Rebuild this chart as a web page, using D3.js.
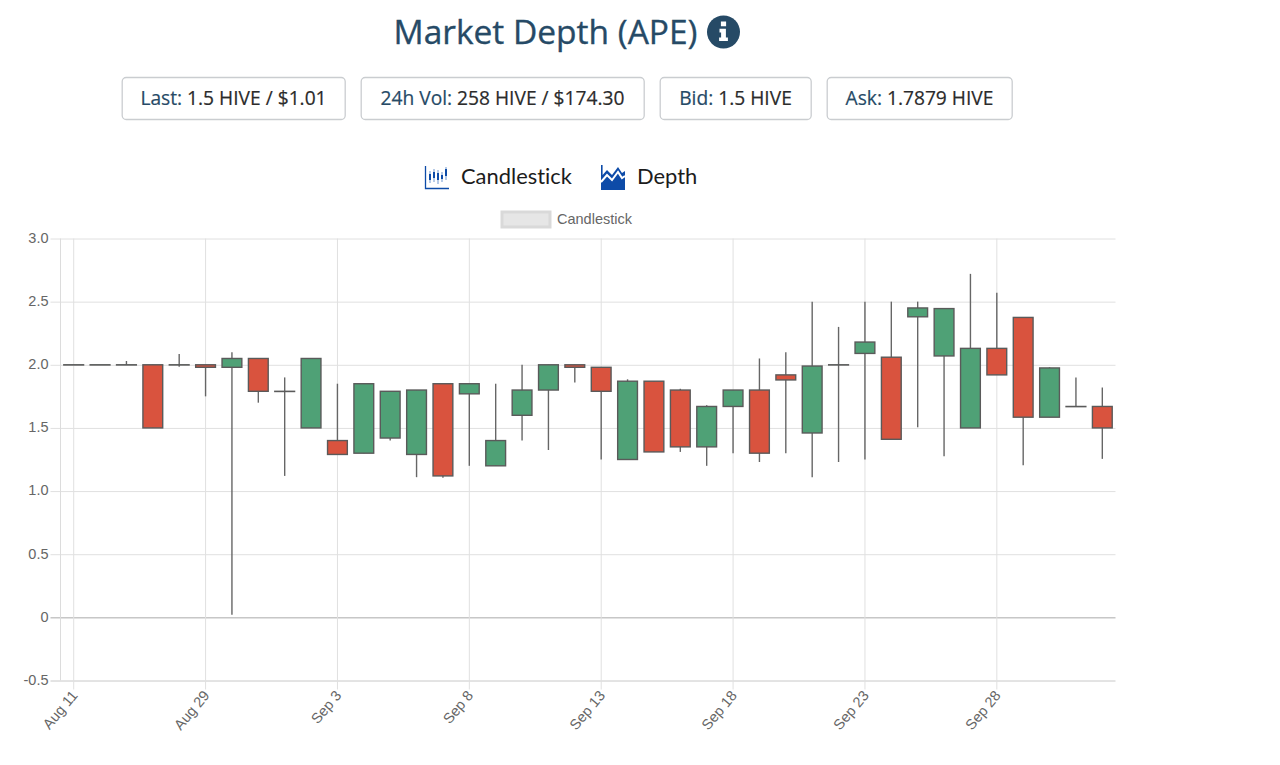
<!DOCTYPE html>
<html>
<head>
<meta charset="utf-8">
<title>Market Depth (APE)</title>
<script src="https://cdn.jsdelivr.net/npm/d3@7"></script>
<style>
  html, body { margin: 0; padding: 0; background: #fff; }
  svg { display: block; }
  .head { font-family: "Open Sans", "Noto Sans", sans-serif; }
  .tab { font-family: "Lato", "Noto Sans", sans-serif; fill: #1c1c1c; font-size: 21.9px; font-variant-ligatures: none; }
  .axis text, .legend-label { font-family: "Liberation Sans", sans-serif; fill: #666; font-size: 14.5px; }
  .axis .domain { display: none; }
  .axis line { stroke: #e0e0e0; stroke-width: 1; }
</style>
</head>
<body>
<div id="chart"></div>
<script>
// first five dates are mostly hidden on the axis, so those are guesses
var categories = ["Aug 11", "Aug 12", "Aug 13", "Aug 14", "Aug 15", "Aug 29", "Aug 30", "Aug 31", "Sep 1", "Sep 2",
  "Sep 3", "Sep 4", "Sep 5", "Sep 6", "Sep 7", "Sep 8", "Sep 9", "Sep 10", "Sep 11", "Sep 12",
  "Sep 13", "Sep 14", "Sep 15", "Sep 16", "Sep 17", "Sep 18", "Sep 19", "Sep 20", "Sep 21", "Sep 22",
  "Sep 23", "Sep 24", "Sep 25", "Sep 26", "Sep 27", "Sep 28", "Sep 29", "Sep 30", "Oct 1", "Oct 2"];

var open_ = [2, 2, 2, 2, 2, 2, 1.98, 2.05, 1.79, 1.5,
  1.4, 1.3, 1.42, 1.29, 1.85, 1.77, 1.2, 1.6, 1.8, 2,
  1.98, 1.25, 1.87, 1.8, 1.35, 1.67, 1.8, 1.92, 1.46, 2,
  2.09, 2.06, 2.38, 2.07, 1.5, 2.13, 2.375, 1.585, 1.67, 1.67];

var close_ = [2, 2, 2, 1.5, 2, 1.98, 2.05, 1.79, 1.79, 2.05,
  1.29, 1.85, 1.79, 1.8, 1.12, 1.85, 1.4, 1.8, 2, 1.98,
  1.79, 1.87, 1.31, 1.35, 1.67, 1.8, 1.3, 1.88, 1.99, 2,
  2.18, 1.41, 2.45, 2.445, 2.13, 1.92, 1.585, 1.975, 1.67, 1.5];

var high = [2, 2, 2.03, 2, 2.085, 2, 2.1, 2.05, 1.9, 2.05,
  1.85, 1.85, 1.79, 1.8, 1.85, 1.85, 1.85, 2, 2, 2,
  1.98, 1.885, 1.87, 1.81, 1.68, 1.8, 2.05, 2.1, 2.5, 2.3,
  2.5, 2.5, 2.5, 2.445, 2.72, 2.57, 2.375, 1.98, 1.9, 1.82];

var low = [2, 2, 2, 1.5, 1.985, 1.75, 0.02, 1.7, 1.12, 1.5,
  1.29, 1.3, 1.4, 1.11, 1.105, 1.2, 1.2, 1.4, 1.325, 1.86,
  1.25, 1.25, 1.31, 1.31, 1.2, 1.3, 1.23, 1.3, 1.11, 1.23,
  1.25, 1.41, 1.505, 1.275, 1.5, 1.92, 1.205, 1.585, 1.67, 1.255];

var yTicks = [-0.5, 0, 0.5, 1, 1.5, 2, 2.5, 3];
var xTickLabels = ["Aug 11", "Aug 29", "Sep 3", "Sep 8", "Sep 13", "Sep 18", "Sep 23", "Sep 28"];

var pillKeys = ["Last:", "24h Vol:", "Bid:", "Ask:"];
var pillValues = ["1.5 HIVE / $1.01", "258 HIVE / $174.30", "1.5 HIVE", "1.7879 HIVE"];
var pillLeft = [122, 361, 660, 827];
var pillRight = [345, 644, 811, 1012];

var navy = "#264a66", blue = "#0d4ba8";
var upColor = "#4fa176", downColor = "#d9533e", edge = "#5a5a5a";

var margin = { top: 238.5, left: 60.5 },
  width = 1055,
  height = 442;

var root = d3.select("#chart").append("svg")
  .attr("width", 1280)
  .attr("height", 765);

// heading
root.append("text")
  .attr("class", "head")
  .attr("x", 393.5).attr("y", 44)
  .style("font-size", "33.5px")
  .style("fill", navy)
  .attr("stroke", navy)
  .attr("stroke-width", 0.35)
  .text("Market Depth (APE)");

var info = root.append("g").attr("transform", "translate(723.5,32)");
info.append("circle").attr("r", 16.5).attr("fill", navy);
info.append("path").attr("fill", "#fff")
  .attr("d", "M-2.6,-10.5h5.2v4.8h-5.2z M-4,-3.2h6.4v8.6h2v3.6h-8.8v-3.6h2v-5h-1.6z");

// stat pills
var pills = root.selectAll(".pill")
  .data(pillKeys)
  .enter().append("g")
  .attr("class", "pill");

pills.append("rect")
  .attr("x", function(d, i) { return pillLeft[i] + 0.2; })
  .attr("y", 77.5)
  .attr("width", function(d, i) { return pillRight[i] - pillLeft[i]; })
  .attr("height", 42)
  .attr("rx", 4)
  .attr("fill", "#fff")
  .attr("stroke", "#cacdd0")
  .attr("stroke-width", 1.3);

var pillText = pills.append("text")
  .attr("class", "head")
  .attr("x", function(d, i) { return (pillLeft[i] + pillRight[i]) / 2; })
  .attr("y", 105)
  .attr("text-anchor", "middle")
  .attr("stroke-width", 0.2)
  .style("font-size", "19.2px");

pillText.append("tspan").attr("fill", navy).attr("stroke", navy).text(function(d) { return d; });
pillText.append("tspan").attr("fill", "#2b2b2b").attr("stroke", "#2b2b2b").text(function(d, i) { return " " + pillValues[i]; });

// chart type tabs
var candleIcon = root.append("g").attr("transform", "translate(425,166)");
candleIcon.append("path").attr("fill", "none").attr("stroke", blue).attr("stroke-width", 1.3)
  .attr("d", "M0.5,0V22.5H24");
candleIcon.append("path").attr("fill", "none").attr("stroke", "#6f97cf").attr("stroke-width", 1)
  .attr("d", "M5,5V17M9,3V16M13,4V18M17,6V16M21,1V14");
candleIcon.append("path").attr("fill", "none").attr("stroke", blue).attr("stroke-width", 2)
  .attr("d", "M5,8V14M9,6V12M13,7V14M17,9V13M21,3V10");

var depthIcon = root.append("g").attr("transform", "translate(601,165)");
depthIcon.append("path").attr("fill", blue)
  .attr("d", "M0,0H1.6V10L6,5L11,10L17,2L21,8L24,6V25H0Z");
depthIcon.append("path").attr("fill", "none").attr("stroke", "#fff").attr("stroke-width", 2)
  .attr("d", "M0,17L6,10L11,15L17,7L21,13L24,11");

root.append("text").attr("class", "tab").attr("x", 461).attr("y", 184).text("Candlestick");
root.append("text").attr("class", "tab").attr("x", 637).attr("y", 184).text("Depth");

// dataset legend
root.append("rect")
  .attr("x", 502).attr("y", 212)
  .attr("width", 48).attr("height", 15)
  .attr("fill", "#e6e6e6")
  .attr("stroke", "#d9d9d9")
  .attr("stroke-width", 3);
root.append("text")
  .attr("class", "legend-label")
  .attr("x", 557).attr("y", 224)
  .text("Candlestick");

var svg = root.append("g")
  .attr("transform", "translate(" + margin.left + "," + margin.top + ")");

var xScale = d3.scaleBand()
  .domain(categories)
  .range([0, width])
  .paddingInner(0.25)
  .paddingOuter(0.125);

var yScale = d3.scaleLinear()
  .domain([-0.5, 3])
  .range([height, 0]);

// y axis, ticks run across as the grid
var yAxis = svg.append("g")
  .attr("class", "y axis")
  .call(d3.axisLeft(yScale)
    .tickValues(yTicks)
    .tickSize(10)
    .tickPadding(2)
    .tickFormat(function(d) { return d === 0 ? "0" : d.toFixed(1); }));

yAxis.selectAll(".tick line")
  .attr("x1", -10)
  .attr("x2", width)
  .style("stroke", function(d) { return d === 0 ? "#aaaaaa" : (d === -0.5 ? "#c8c8c8" : "#e0e0e0"); });

yAxis.selectAll(".tick text").attr("dy", "0.27em");

// left border
svg.append("line")
  .attr("x1", 0).attr("x2", 0)
  .attr("y1", 0).attr("y2", height)
  .attr("stroke", "#dcdcdc");

// x axis
var xAxis = svg.append("g")
  .attr("class", "x axis")
  .attr("transform", "translate(0," + height + ")")
  .call(d3.axisBottom(xScale)
    .tickValues(xTickLabels)
    .tickSize(10)
    .tickPadding(2));

xAxis.selectAll(".tick line")
  .attr("y1", -height)
  .attr("y2", 9);

xAxis.selectAll(".tick text")
  .attr("text-anchor", "end")
  .attr("dx", 3)
  .attr("dy", 6)
  .attr("transform", "translate(-11,6) rotate(-50)");

// candles
var candles = svg.selectAll(".candle")
  .data(categories)
  .enter().append("g")
  .attr("class", "candle");

function xMid(d) { return xScale(d) + xScale.bandwidth() / 2; }

candles.append("line")
  .attr("x1", xMid)
  .attr("x2", xMid)
  .attr("y1", function(d, i) { return yScale(high[i]); })
  .attr("y2", function(d, i) { return yScale(low[i]); })
  .attr("stroke", "#666")
  .attr("stroke-width", 1.4);

// open == close still has to show as a flat line, so keep a sliver of height
candles.append("rect")
  .attr("x", function(d) { return xScale(d); })
  .attr("width", xScale.bandwidth())
  .attr("y", function(d, i) { return yScale(Math.max(open_[i], close_[i])); })
  .attr("height", function(d, i) { return Math.max(0.2, Math.abs(yScale(open_[i]) - yScale(close_[i]))); })
  .attr("fill", function(d, i) { return close_[i] >= open_[i] ? upColor : downColor; })
  .attr("stroke", edge)
  .attr("stroke-width", 1.4);
</script>
</body>
</html>
